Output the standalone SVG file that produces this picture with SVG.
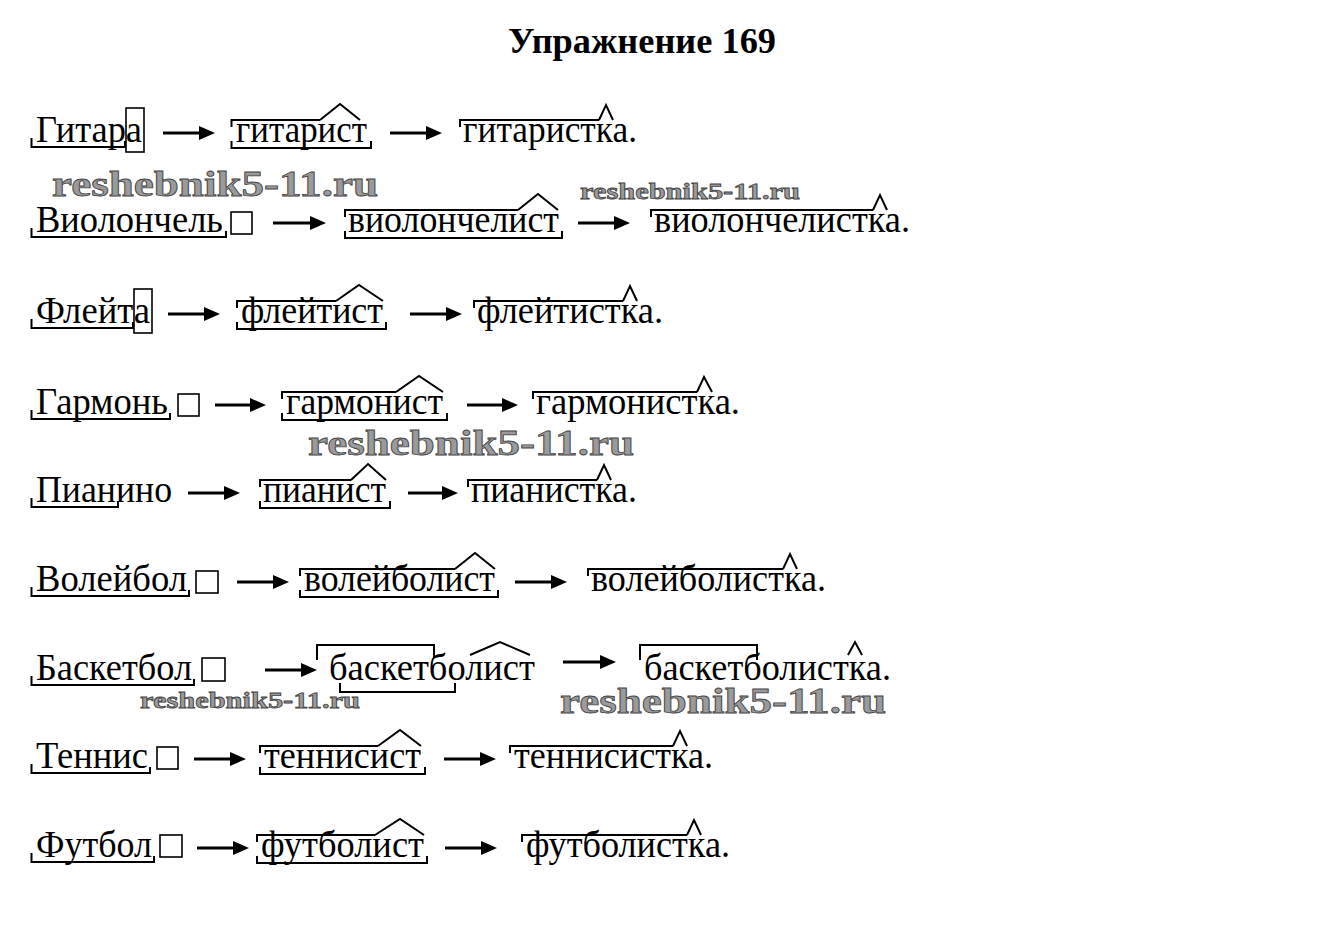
<svg xmlns="http://www.w3.org/2000/svg" width="1339" height="933" viewBox="0 0 1339 933">
<style>
.w{font-family:"Liberation Serif","Times New Roman",serif;font-size:38px;fill:#000}
.t{font-family:"Liberation Serif","Times New Roman",serif;font-size:35px;font-weight:bold;fill:#000}
.m{fill:none;stroke:#000;stroke-width:2}
.b{fill:none;stroke:#000;stroke-width:1.6}
.a{stroke:#000;stroke-width:3;fill:none}
.wm{font-family:"Liberation Serif","Times New Roman",serif;font-weight:bold;fill:#9a9a9a;stroke:#444;stroke-width:0.8}
</style>
<defs>
<marker id="ah" viewBox="0 0 16 14" markerWidth="16" markerHeight="14" refX="8" refY="7" markerUnits="userSpaceOnUse" orient="auto">
<path d="M0,0 L16,7 L0,14 z" fill="#000"/>
</marker>
</defs>
<rect width="1339" height="933" fill="#fff"/>
<text class="t" x="642" y="53" text-anchor="middle" textLength="268" lengthAdjust="spacingAndGlyphs">Упражнение 169</text>

<g id="row1" transform="translate(0,142)">
<text class="w" x="36" textLength="106" lengthAdjust="spacingAndGlyphs">Гитара</text>
<rect class="b" x="126" y="-34" width="18" height="44"/>
<path class="m" d="M31.5,-4 V5 H125 V-1"/>
<text class="w" x="236" textLength="131" lengthAdjust="spacingAndGlyphs">гитарист</text>
<path class="m" d="M231.5,-15 V-22 H320 M320,-22 L340,-38 L360,-22 M231.5,-1 V6 H371 V-1"/>
<text class="w" x="463" textLength="174" lengthAdjust="spacingAndGlyphs">гитаристка.</text>
<path class="m" d="M460,-15 V-22 H599 M599,-22 L606,-37 L613,-22"/>
</g>

<g id="row2" transform="translate(0,232)">
<text class="w" x="36" textLength="187" lengthAdjust="spacingAndGlyphs">Виолончель</text>
<path class="m" d="M31.5,-4 V5 H226 V-1"/>
<rect class="b" x="231" y="-20" width="21" height="22"/>
<text class="w" x="348" textLength="211" lengthAdjust="spacingAndGlyphs">виолончелист</text>
<path class="m" d="M345,-15 V-22 H518 M518,-22 L538,-38 L558,-22 M345,-1 V6 H562 V-1"/>
<text class="w" x="654" textLength="256" lengthAdjust="spacingAndGlyphs">виолончелистка.</text>
<path class="m" d="M651,-15 V-22 H873 M873,-22 L880,-37 L887,-22"/>
</g>

<g id="row3" transform="translate(0,323)">
<text class="w" x="36" textLength="114" lengthAdjust="spacingAndGlyphs">Флейта</text>
<rect class="b" x="134" y="-34" width="18" height="44"/>
<path class="m" d="M31.5,-4 V5 H133 V-1"/>
<text class="w" x="241" textLength="142" lengthAdjust="spacingAndGlyphs">флейтист</text>
<path class="m" d="M237,-15 V-22 H336 M336,-22 L359,-38 L383,-22 M237,-1 V6 H386 V-1"/>
<text class="w" x="477" textLength="186" lengthAdjust="spacingAndGlyphs">флейтистка.</text>
<path class="m" d="M474,-15 V-22 H623 M623,-22 L630,-37 L637,-22"/>
</g>

<g id="row4" transform="translate(0,414)">
<text class="w" x="36" textLength="132" lengthAdjust="spacingAndGlyphs">Гармонь</text>
<path class="m" d="M31.5,-4 V5 H170 V-1"/>
<rect class="b" x="178" y="-20" width="21" height="22"/>
<text class="w" x="286" textLength="157" lengthAdjust="spacingAndGlyphs">гармонист</text>
<path class="m" d="M282,-15 V-22 H396 M396,-22 L419,-38 L443,-22 M282,-1 V6 H447 V-1"/>
<text class="w" x="536" textLength="204" lengthAdjust="spacingAndGlyphs">гармонистка.</text>
<path class="m" d="M533,-15 V-22 H697 M697,-22 L704,-37 L712,-22"/>
</g>

<g id="row5" transform="translate(0,502)">
<text class="w" x="36" textLength="136" lengthAdjust="spacingAndGlyphs">Пианино</text>
<path class="m" d="M31.5,-4 V5 H118 V-1"/>
<text class="w" x="263" textLength="123" lengthAdjust="spacingAndGlyphs">пианист</text>
<path class="m" d="M260,-15 V-22 H351 M351,-22 L368,-38 L386,-22 M260,-1 V6 H390 V-1"/>
<text class="w" x="471" textLength="166" lengthAdjust="spacingAndGlyphs">пианистка.</text>
<path class="m" d="M468,-15 V-22 H597 M597,-22 L604,-37 L611,-22"/>
</g>

<g id="row6" transform="translate(0,591)">
<text class="w" x="36" textLength="151" lengthAdjust="spacingAndGlyphs">Волейбол</text>
<path class="m" d="M31.5,-4 V5 H189 V-1"/>
<rect class="b" x="196" y="-20" width="22" height="22"/>
<text class="w" x="304" textLength="191" lengthAdjust="spacingAndGlyphs">волейболист</text>
<path class="m" d="M300,-15 V-22 H455 M455,-22 L475,-38 L495,-22 M300,-1 V6 H498 V-1"/>
<text class="w" x="591" textLength="235" lengthAdjust="spacingAndGlyphs">волейболистка.</text>
<path class="m" d="M588,-15 V-22 H783 M783,-22 L790,-37 L797,-22"/>
</g>

<g id="row7" transform="translate(0,680)">
<text class="w" x="36" textLength="156" lengthAdjust="spacingAndGlyphs">Баскетбол</text>
<path class="m" d="M31.5,-4 V5 H194 V-1"/>
<rect class="b" x="202" y="-22" width="23" height="23"/>
<text class="w" x="329" textLength="206" lengthAdjust="spacingAndGlyphs">баскетболист</text>
<path class="m" d="M317,-20 V-35 H434 V-22 M470,-25 L500,-38 L530,-25 M340,3 V12 H455 V3"/>
<text class="w" x="644" textLength="247" lengthAdjust="spacingAndGlyphs">баскетболистка.</text>
<path class="m" d="M640,-20 V-35 H757 V-20 M848,-25 L855,-38 L862,-25"/>
</g>

<g id="row8" transform="translate(0,768)">
<text class="w" x="36" textLength="112" lengthAdjust="spacingAndGlyphs">Теннис</text>
<path class="m" d="M31.5,-4 V5 H150 V-1"/>
<rect class="b" x="157" y="-21" width="21" height="22"/>
<text class="w" x="264" textLength="157" lengthAdjust="spacingAndGlyphs">теннисист</text>
<path class="m" d="M260,-15 V-22 H378 M378,-22 L400,-38 L421,-22 M260,-1 V6 H425 V-1"/>
<text class="w" x="514" textLength="199" lengthAdjust="spacingAndGlyphs">теннисистка.</text>
<path class="m" d="M510,-15 V-22 H673 M673,-22 L680,-37 L687,-22"/>
</g>

<g id="row9" transform="translate(0,857)">
<text class="w" x="36" textLength="116" lengthAdjust="spacingAndGlyphs">Футбол</text>
<path class="m" d="M31.5,-4 V5 H154 V-1"/>
<rect class="b" x="160" y="-22" width="22" height="22"/>
<text class="w" x="261" textLength="163" lengthAdjust="spacingAndGlyphs">футболист</text>
<path class="m" d="M257,-15 V-22 H375 M375,-22 L400,-38 L424,-22 M257,-1 V6 H427 V-1"/>
<text class="w" x="526" textLength="204" lengthAdjust="spacingAndGlyphs">футболистка.</text>
<path class="m" d="M522,-15 V-22 H687 M687,-22 L694,-37 L701,-22"/>
</g>

<g id="connectors" class="a">
<line x1="163" y1="133" x2="207" y2="133" marker-end="url(#ah)"/>
<line x1="390" y1="133" x2="434" y2="133" marker-end="url(#ah)"/>
<line x1="273" y1="223" x2="318" y2="223" marker-end="url(#ah)"/>
<line x1="578" y1="223" x2="622" y2="223" marker-end="url(#ah)"/>
<line x1="168" y1="314" x2="212" y2="314" marker-end="url(#ah)"/>
<line x1="410" y1="314" x2="454" y2="314" marker-end="url(#ah)"/>
<line x1="215" y1="405" x2="258" y2="405" marker-end="url(#ah)"/>
<line x1="467" y1="405" x2="510" y2="405" marker-end="url(#ah)"/>
<line x1="188" y1="493" x2="232" y2="493" marker-end="url(#ah)"/>
<line x1="408" y1="493" x2="450" y2="493" marker-end="url(#ah)"/>
<line x1="237" y1="582" x2="281" y2="582" marker-end="url(#ah)"/>
<line x1="515" y1="582" x2="559" y2="582" marker-end="url(#ah)"/>
<line x1="265" y1="670" x2="309" y2="670" marker-end="url(#ah)"/>
<line x1="563" y1="662" x2="608" y2="662" marker-end="url(#ah)"/>
<line x1="194" y1="759" x2="238" y2="759" marker-end="url(#ah)"/>
<line x1="444" y1="759" x2="488" y2="759" marker-end="url(#ah)"/>
<line x1="197" y1="848" x2="241" y2="848" marker-end="url(#ah)"/>
<line x1="445" y1="848" x2="489" y2="848" marker-end="url(#ah)"/>
</g>

<g id="watermarks">
<text class="wm" x="52" y="196" font-size="36" textLength="326" lengthAdjust="spacingAndGlyphs">reshebnik5-11.ru</text>
<text class="wm" x="580" y="199" font-size="24" textLength="220" lengthAdjust="spacingAndGlyphs">reshebnik5-11.ru</text>
<text class="wm" x="308" y="455" font-size="36" textLength="326" lengthAdjust="spacingAndGlyphs">reshebnik5-11.ru</text>
<text class="wm" x="140" y="708" font-size="24" textLength="220" lengthAdjust="spacingAndGlyphs">reshebnik5-11.ru</text>
<text class="wm" x="560" y="713" font-size="36" textLength="326" lengthAdjust="spacingAndGlyphs">reshebnik5-11.ru</text>
</g>
</svg>
